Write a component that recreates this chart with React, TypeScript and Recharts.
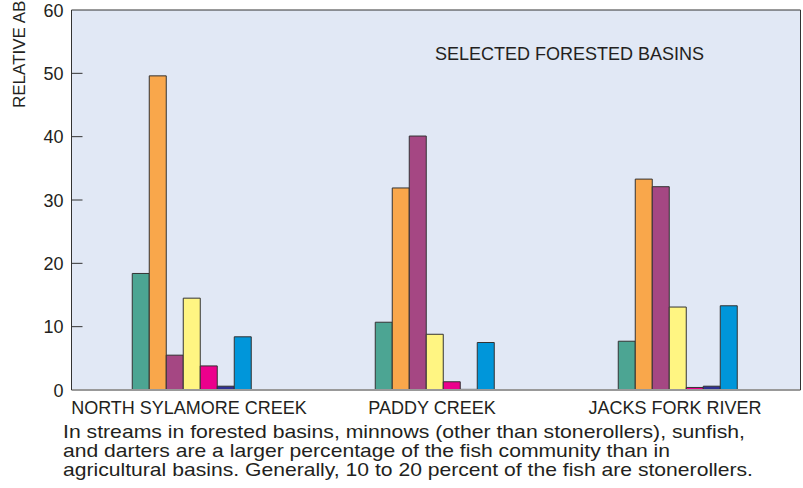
import React from 'react';
import { BarChart, Bar, XAxis, YAxis, CartesianGrid, ReferenceLine } from 'recharts';

const basins = ['NORTH SYLAMORE CREEK', 'PADDY CREEK', 'JACKS FORK RIVER'];
const stonerollers = [18.4, 10.7, 7.7];
const minnows = [49.6, 31.9, 33.3];
const sunfish = [5.5, 40.1, 32.1];
const darters = [14.5, 8.8, 13.1];
const catfish = [3.8, 1.3, 0.4];
const suckers = [0.6, 0.1, 0.6];
const other = [8.4, 7.5, 13.3];
const yTicks = [0, 10, 20, 30, 40, 50, 60];

const captionLines = [
  'In streams in forested basins, minnows (other than stonerollers), sunfish,',
  'and darters are a larger percentage of the fish community than in',
  'agricultural basins. Generally, 10 to 20 percent of the fish are stonerollers.',
];
// measured widths of the caption lines in the reference
const captionWidths = [682, 607, 690];

const series = [
  { key: 'stonerollers', color: '#4ca593' },
  { key: 'minnows', color: '#f9a74b' },
  { key: 'sunfish', color: '#a54783' },
  { key: 'darters', color: '#fff582' },
  { key: 'catfish', color: '#ec008c' },
  { key: 'suckers', color: '#2e3192' },
  { key: 'other', color: '#0096da' },
];

const data = basins.map((name, i) => ({
  name,
  stonerollers: stonerollers[i],
  minnows: minnows[i],
  sunfish: sunfish[i],
  darters: darters[i],
  catfish: catfish[i],
  suckers: suckers[i],
  other: other[i],
}));

const FONT = '"Liberation Sans", Arial, Helvetica, sans-serif';
const TEXT = '#231f20';

const LeftTick = (props: any) => {
  const { x, y, payload } = props;
  const v = payload.value;
  return (
    <g>
      {v > 0 && v < 60 && <line x1={x} x2={x + 11} y1={y} y2={y} stroke="#333" strokeWidth={1} />}
      <text x={x - 8} y={y + 6.5} textAnchor="end" fontSize={18} fontFamily={FONT} fill={TEXT}>
        {v}
      </text>
    </g>
  );
};

const RightTick = (props: any) => {
  const { x, y, payload } = props;
  const v = payload.value;
  if (v <= 0 || v >= 60) return <g />;
  return <line x1={x - 11} x2={x} y1={y} y2={y} stroke="#333" strokeWidth={1} />;
};

const CategoryTick = (props: any) => {
  const { x, y, payload } = props;
  return (
    <text x={x - 4} y={y + 23.5} textAnchor="middle" fontSize={18} fontFamily={FONT} fill={TEXT}>
      {payload.value}
    </text>
  );
};

export default function App() {
  return (
    <div style={{ position: 'absolute', left: 0, top: 0, width: 803, height: 488, background: '#fff' }}>
      <BarChart
        width={803}
        height={488}
        data={data}
        margin={{ top: 10, right: 0, bottom: 68, left: 0 }}
        barCategoryGap="25%"
        barGap={0}
      >
        <CartesianGrid horizontal={false} vertical={false} fill="#e1e8f5" />
        <XAxis
          dataKey="name"
          height={30}
          tickLine={false}
          tickSize={0}
          tickMargin={0}
          tick={<CategoryTick />}
          axisLine={{ stroke: '#999', strokeWidth: 2 }}
          interval={0}
        />
        <YAxis
          width={71.5}
          domain={[0, 60]}
          ticks={yTicks}
          tickSize={0}
          tickMargin={0}
          tickLine={false}
          tick={<LeftTick />}
          axisLine={{ stroke: '#333' }}
        />
        <YAxis
          yAxisId="r"
          orientation="right"
          width={2.5}
          domain={[0, 60]}
          ticks={yTicks}
          tickSize={0}
          tickMargin={0}
          tickLine={false}
          tick={<RightTick />}
          axisLine={{ stroke: '#333' }}
        />
        <ReferenceLine y={60} stroke="#333" />
        {series.map(s => (
          <Bar
            key={s.key}
            dataKey={s.key}
            fill={s.color}
            stroke="#333"
            strokeWidth={1}
            isAnimationActive={false}
          />
        ))}
      </BarChart>
      <svg width={803} height={488} style={{ position: 'absolute', left: 0, top: 0, pointerEvents: 'none' }}>
        <text x={435} y={59.5} fontSize={18} fontFamily={FONT} fill={TEXT}>
          SELECTED FORESTED BASINS
        </text>
        <text
          transform="translate(25,108) rotate(-90)"
          fontSize={17}
          fontFamily={FONT}
          fill={TEXT}
        >
          RELATIVE ABUNDANCE, IN PERCENT
        </text>
        {captionLines.map((line, i) => (
          <text
            key={i}
            x={63}
            y={437.5 + i * 19}
            fontSize={19}
            fontFamily={FONT}
            fill={TEXT}
            textLength={captionWidths[i]}
            lengthAdjust="spacingAndGlyphs"
          >
            {line}
          </text>
        ))}
      </svg>
    </div>
  );
}
